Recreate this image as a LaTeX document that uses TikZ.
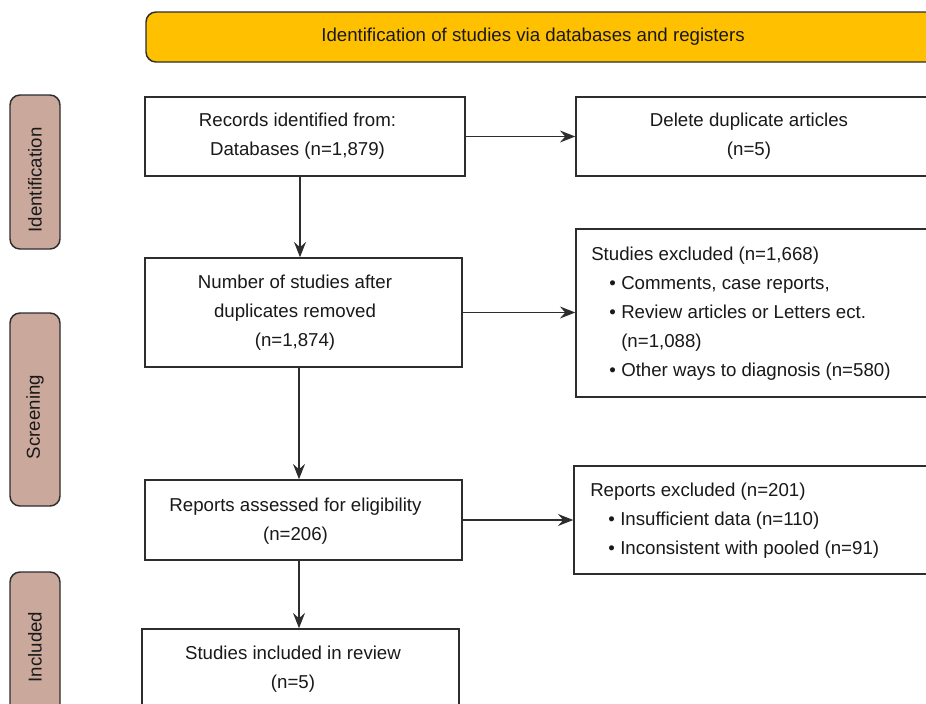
\documentclass[tikz,border=0pt]{standalone}
\usepackage{fontspec}
\setmainfont{Liberation Sans}
\usetikzlibrary{arrows.meta,calc}
\definecolor{bannerfill}{RGB}{255,192,0}
\definecolor{stagefill}{RGB}{202,168,156}
\definecolor{edge}{RGB}{45,45,45}
\definecolor{ink}{RGB}{25,25,25}
\newcommand\myblt{\hspace*{22.5pt}\llap{•\hspace{4pt}}}
\newcommand\myind{\hspace*{22.5pt}}
\tikzset{
 box/.style={draw=edge, line width=1.1pt, fill=white, inner sep=0pt, rectangle},
 stage/.style={draw=edge, line width=1.1pt, fill=stagefill, rounded corners=7.5pt, inner sep=0pt, rectangle},
 banner/.style={draw=edge, line width=1.1pt, fill=bannerfill, rounded corners=7.5pt, inner sep=0pt, rectangle},
 txt/.style={text=ink, align=center, font=\fontsize{14}{21.75}\selectfont, inner sep=0pt},
 ltxt/.style={text=ink, align=left, font=\fontsize{14}{21.75}\selectfont, inner sep=0pt, anchor=west},
 arr/.style={draw=edge, line width=1.1pt, -{Stealth[length=11.5pt,width=9pt,inset=4pt]}}
}
\begin{document}
\begin{tikzpicture}[x=0.75pt,y=-0.75pt]
\useasboundingbox (0,0) rectangle (926,704);
\clip (0,0) rectangle (926,704);
% banner
\node[banner, minimum width=814*0.75pt, minimum height=50*0.75pt] (ban) at (553,37) {};
\node[txt] (bant) at (533,37) {Identification of studies via databases and registers};
% stage labels
\node[stage, minimum width=37.5pt, minimum height=154*0.75pt] (s1) at (35,172) {};
\node[txt, rotate=90] (s1t) at (35,180) {Identification};
\node[stage, minimum width=37.5pt, minimum height=193*0.75pt] (s2) at (35,409.5) {};
\node[txt, rotate=90] (s2t) at (35,417) {Screening};
\node[stage, minimum width=37.5pt, minimum height=188*0.75pt] (s3) at (35,666) {};
\node[txt, rotate=90] (s3t) at (35,647) {Included};
% main column
\node[box, minimum width=320*0.75pt, minimum height=79*0.75pt] (b1) at (305,136.5) {};
\node[txt] (b1t) at (297.5,136.5) {Records identified from:\\Databases (n=1,879)};
\node[box, minimum width=317*0.75pt, minimum height=109*0.75pt] (b2) at (303.5,312.5) {};
\node[txt] (b2t) at (295,312.5) {Number of studies after\\duplicates removed\\(n=1,874)};
\node[box, minimum width=317*0.75pt, minimum height=80*0.75pt] (b3) at (303.5,520) {};
\node[txt] (b3t) at (295.5,521) {Reports assessed for eligibility\\(n=206)};
\node[box, minimum width=317*0.75pt, minimum height=81*0.75pt] (b4) at (300.5,669.5) {};
\node[txt] (b4t) at (293,669.5) {Studies included in review\\(n=5)};
% right column
\node[box, minimum width=384*0.75pt, minimum height=79*0.75pt] (del) at (768,136.5) {};
\node[txt] (delt) at (749,136.5) {Delete duplicate articles\\(n=5)};
\node[box, minimum width=384*0.75pt, minimum height=168*0.75pt] (ex1) at (768,313) {};
\node[ltxt] (ex1t) at (591,314) {Studies excluded (n=1,668)\\
\myblt Comments, case reports,\\
\myblt Review articles or Letters ect.\\
\myind (n=1,088)\\
\myblt Other ways to diagnosis (n=580)};
\node[box, minimum width=386*0.75pt, minimum height=108*0.75pt] (ex2) at (767,520) {};
\node[ltxt] (ex2t) at (590,520.5) {Reports excluded (n=201)\\
\myblt Insufficient data (n=110)\\
\myblt Inconsistent with pooled (n=91)};
% connectors
\coordinate (ax) at (300,0);
\coordinate (ay) at (299,0);
\draw[arr] (b1.south -| ax) -- (b2.north -| ax);
\draw[arr] (b2.south -| ay) -- (b3.north -| ay);
\draw[arr] (b3.south -| ay) -- (b4.north -| ay);
\draw[arr] (b1.east) -- (del.west |- b1.east);
\draw[arr] (b2.east) -- (ex1.west |- b2.east);
\draw[arr] (b3.east) -- (ex2.west |- b3.east);
\end{tikzpicture}
\end{document}
